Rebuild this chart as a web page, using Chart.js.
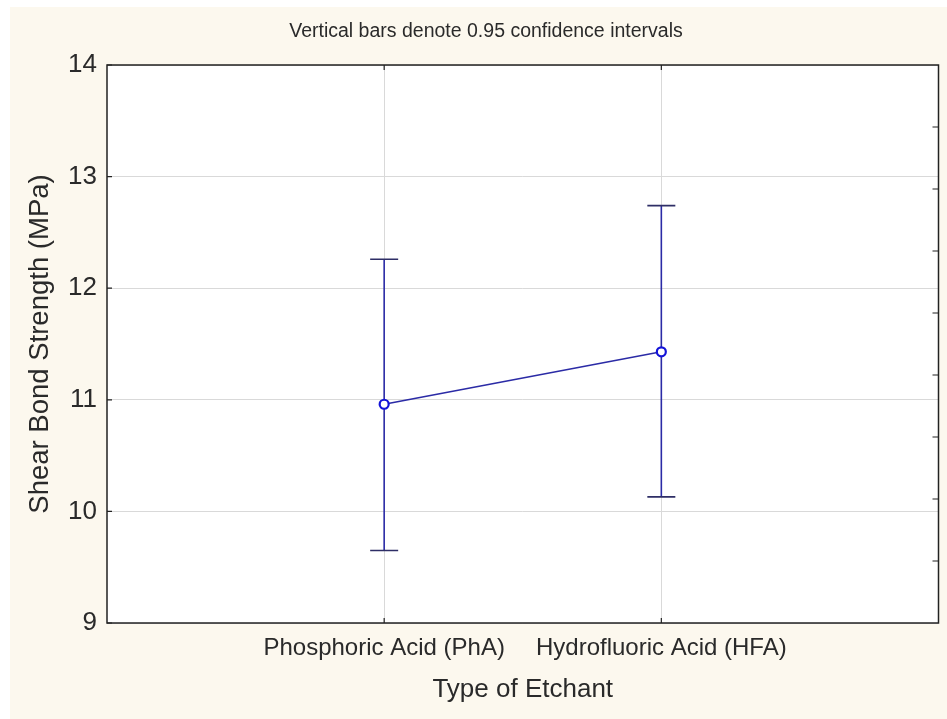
<!DOCTYPE html>
<html>
<head>
<meta charset="utf-8">
<script src="https://cdn.jsdelivr.net/npm/chart.js@4/dist/chart.umd.min.js"></script>
<style>
  html, body { margin: 0; padding: 0; background: #ffffff; }
  #frame { position: absolute; left: 10px; top: 7px; width: 937px; height: 712px; background: #fcf8ee; }
</style>
</head>
<body>
<div id="frame"><canvas id="ciChart" width="937" height="712"></canvas></div>
<script>
const etchants = ['Phosphoric Acid (PhA)', 'Hydrofluoric Acid (HFA)'];
const meanStrength = [10.96, 11.43];
const ciLower = [9.65, 10.13];
const ciUpper = [12.26, 12.74];
const yTicks = [9, 10, 11, 12, 13, 14];
const chartNote = 'Vertical bars denote 0.95 confidence intervals';

const FONT = '"Liberation Sans", Arial, sans-serif';
const GRID = '#d9d9d9';
const LINE_BLUE = '#2b2ba6';

// white plot area, error bars, frame, inner ticks and the note on top
const extras = {
  id: 'extras',
  beforeDraw(chart) {
    const { ctx, chartArea: a } = chart;
    ctx.save();
    ctx.fillStyle = '#ffffff';
    ctx.fillRect(a.left, a.top, a.right - a.left, a.bottom - a.top);
    ctx.restore();
  },
  beforeDatasetsDraw(chart) {
    const { ctx } = chart;
    const x = chart.scales.x, y = chart.scales.y;
    ctx.save();
    meanStrength.forEach((m, i) => {
      const px = x.getPixelForValue(i + 1);
      const top = y.getPixelForValue(ciUpper[i]);
      const bot = y.getPixelForValue(ciLower[i]);
      ctx.strokeStyle = LINE_BLUE;
      ctx.lineWidth = 1.6;
      ctx.beginPath();
      ctx.moveTo(px, top);
      ctx.lineTo(px, bot);
      ctx.stroke();
      ctx.strokeStyle = '#2e2e66';
      ctx.beginPath();
      ctx.moveTo(px - 14, top);
      ctx.lineTo(px + 14, top);
      ctx.moveTo(px - 14, bot);
      ctx.lineTo(px + 14, bot);
      ctx.stroke();
    });
    ctx.restore();
  },
  afterDraw(chart) {
    const { ctx, chartArea: a } = chart;
    const x = chart.scales.x, y = chart.scales.y, y2 = chart.scales.y2;
    ctx.save();
    ctx.strokeStyle = '#222';
    ctx.lineWidth = 1.5;
    ctx.strokeRect(a.left, a.top, a.right - a.left, a.bottom - a.top);
    ctx.lineWidth = 1.2;
    ctx.beginPath();
    y.ticks.forEach(t => {
      const py = y.getPixelForValue(t.value);
      ctx.moveTo(a.left, py);
      ctx.lineTo(a.left + 5, py);
    });
    x.ticks.forEach(t => {
      const px = x.getPixelForValue(t.value);
      ctx.moveTo(px, a.top);
      ctx.lineTo(px, a.top + 5);
      ctx.moveTo(px, a.bottom);
      ctx.lineTo(px, a.bottom - 5);
    });
    y2.ticks.forEach(t => {
      if (t.value <= y2.min || t.value >= y2.max) return;
      const py = y2.getPixelForValue(t.value);
      ctx.moveTo(a.right, py);
      ctx.lineTo(a.right - 6, py);
    });
    ctx.stroke();
    ctx.fillStyle = '#2a2a2a';
    ctx.font = '19.5px ' + FONT;
    ctx.textAlign = 'center';
    ctx.textBaseline = 'middle';
    ctx.fillText(chartNote, 476, 25);
    ctx.restore();
  }
};

new Chart(document.getElementById('ciChart'), {
  type: 'line',
  data: {
    datasets: [{
      data: meanStrength.map((m, i) => ({ x: i + 1, y: m })),
      borderColor: LINE_BLUE,
      borderWidth: 1.5,
      pointRadius: 4.5,
      pointBorderWidth: 2.2,
      pointBorderColor: '#1414d8',
      pointBackgroundColor: '#ffffff',
      tension: 0
    }]
  },
  options: {
    responsive: false,
    animation: false,
    layout: { padding: { top: 58, right: 0, left: 0, bottom: 0 } },
    plugins: {
      legend: { display: false },
      tooltip: { enabled: false }
    },
    scales: {
      x: {
        type: 'linear',
        min: 0,
        max: 3,
        afterBuildTicks: s => { s.ticks = etchants.map((e, i) => ({ value: i + 1 })); },
        afterFit: s => { s.height = 96; },
        grid: { color: GRID, drawTicks: false },
        border: { display: false },
        ticks: {
          autoSkip: false,
          maxRotation: 0,
          padding: 11,
          color: '#2a2a2a',
          font: { family: FONT, size: 24 },
          callback: v => etchants[v - 1]
        },
        title: {
          display: true,
          text: 'Type of Etchant',
          color: '#2a2a2a',
          font: { family: FONT, size: 26 },
          padding: { top: 0, bottom: 14 }
        }
      },
      y: {
        min: 9,
        max: 14,
        afterBuildTicks: s => { s.ticks = yTicks.map(v => ({ value: v })); },
        afterFit: s => { s.width = 97; },
        grid: { color: GRID, drawTicks: false },
        border: { display: false },
        ticks: {
          padding: 10,
          color: '#2a2a2a',
          font: { family: FONT, size: 26 }
        },
        title: {
          display: true,
          text: 'Shear Bond Strength (MPa)',
          color: '#2a2a2a',
          font: { family: FONT, size: 27.5 },
          padding: { top: 14, bottom: 0 }
        }
      },
      y2: {
        position: 'right',
        min: 0,
        max: 9,
        afterFit: s => { s.width = 8.5; },
        grid: { display: false },
        border: { display: false },
        ticks: { display: false, stepSize: 1 }
      }
    }
  },
  plugins: [extras]
});
</script>
</body>
</html>
